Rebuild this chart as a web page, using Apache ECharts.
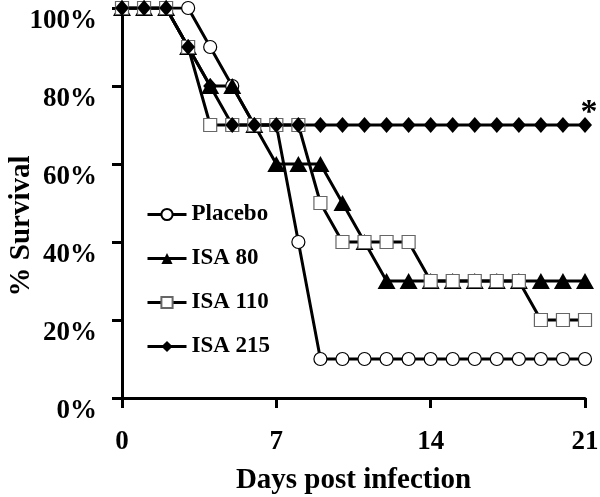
<!DOCTYPE html>
<html>
<head>
<meta charset="utf-8">
<script src="https://cdn.jsdelivr.net/npm/echarts@6/dist/echarts.min.js"></script>
<style>html,body{margin:0;padding:0;background:#fff}#c{width:600px;height:497px}</style>
</head>
<body>
<div id="c"></div>
<script>
var days = [0,1,2,3,4,5,6,7,8,9,10,11,12,13,14,15,16,17,18,19,20,21];
var placebo = [100,100,100,100,90,80,70,70,40,10,10,10,10,10,10,10,10,10,10,10,10,10];
var isa80  = [100,100,100,90,80,80,70,60,60,60,50,40,30,30,30,30,30,30,30,30,30,30];
var isa110 = [100,100,100,90,70,70,70,70,70,50,40,40,40,40,30,30,30,30,30,20,20,20];
var isa215 = [100,100,100,90,80,70,70,70,70,70,70,70,70,70,70,70,70,70,70,70,70,70];
var xTicks = [0,7,14,21];
var seriesNames = ['Placebo','ISA 80','ISA 110','ISA 215'];

function pairs(v){ return days.map(function(d,i){ return [d, v[i]]; }); }

var font = '"Liberation Serif", "Times New Roman", serif';
var chart = echarts.init(document.getElementById('c'), null, {renderer:'canvas'});
var lineStyle = {color:'#000', width:3};
chart.setOption({
  animation:false,
  backgroundColor:'#fff',
  grid:{left:122, right:15, top:8, bottom:99, containLabel:false, outerBoundsMode:'none'},
  legend:{
    orient:'vertical', left:146, top:203, padding:0, itemGap:21, itemWidth:39, itemHeight:14,
    textStyle:{fontFamily:font, fontWeight:'bold', fontSize:23, color:'#000'},
    lineStyle:{width:3},
    data:seriesNames
  },
  xAxis:{
    type:'value', min:0, max:21, interval:7,
    name:'Days post infection', nameLocation:'middle', nameGap:68, nameMoveOverlap:false,
    nameTextStyle:{fontFamily:font, fontWeight:'bold', fontSize:29, color:'#000'},
    axisLine:{lineStyle:{color:'#000', width:3}},
    axisTick:{inside:false, length:10, lineStyle:{color:'#000', width:3}},
    axisLabel:{fontFamily:font, fontWeight:'bold', fontSize:27, color:'#000', margin:31,
      customValues: xTicks},
    splitLine:{show:false}
  },
  yAxis:{
    type:'value', min:0, max:100, interval:20,
    name:'% Survival', nameLocation:'middle', nameGap:86, nameRotate:90, nameMoveOverlap:false,
    nameTextStyle:{fontFamily:font, fontWeight:'bold', fontSize:29, color:'#000', padding:[0,46,0,0]},
    axisLine:{lineStyle:{color:'#000', width:3}},
    axisTick:{length:10, lineStyle:{color:'#000', width:3}},
    axisLabel:{fontFamily:font, fontWeight:'bold', fontSize:27, color:'#000', margin:25,
      verticalAlign:'top', formatter:'{value}%'},
    splitLine:{show:false}
  },
  series:[
    {name:seriesNames[0], type:'line', data:pairs(placebo), symbol:'circle', symbolSize:13,
     lineStyle:lineStyle, itemStyle:{color:'#fff', borderColor:'#000', borderWidth:1.2}},
    {name:seriesNames[1], type:'line', data:pairs(isa80), symbol:'triangle', symbolSize:[18,16],
     lineStyle:lineStyle, itemStyle:{color:'#000', borderColor:'#000', borderWidth:0}},
    {name:seriesNames[2], type:'line', data:pairs(isa110), symbol:'rect', symbolSize:13,
     lineStyle:lineStyle, itemStyle:{color:'#fff', borderColor:'#666', borderWidth:1.2}},
    {name:seriesNames[3], type:'line', data:pairs(isa215), symbol:'diamond', symbolSize:[14,16],
     lineStyle:lineStyle, itemStyle:{color:'#000', borderColor:'#000', borderWidth:0},
     markPoint:{symbol:'circle', symbolSize:0, data:[{coord:[21,70]}],
       label:{show:true, formatter:'*', position:'top', offset:[4,10],
         fontFamily:font, fontWeight:'bold', fontSize:34, color:'#000'}}}
  ]
});
</script>
</body>
</html>
